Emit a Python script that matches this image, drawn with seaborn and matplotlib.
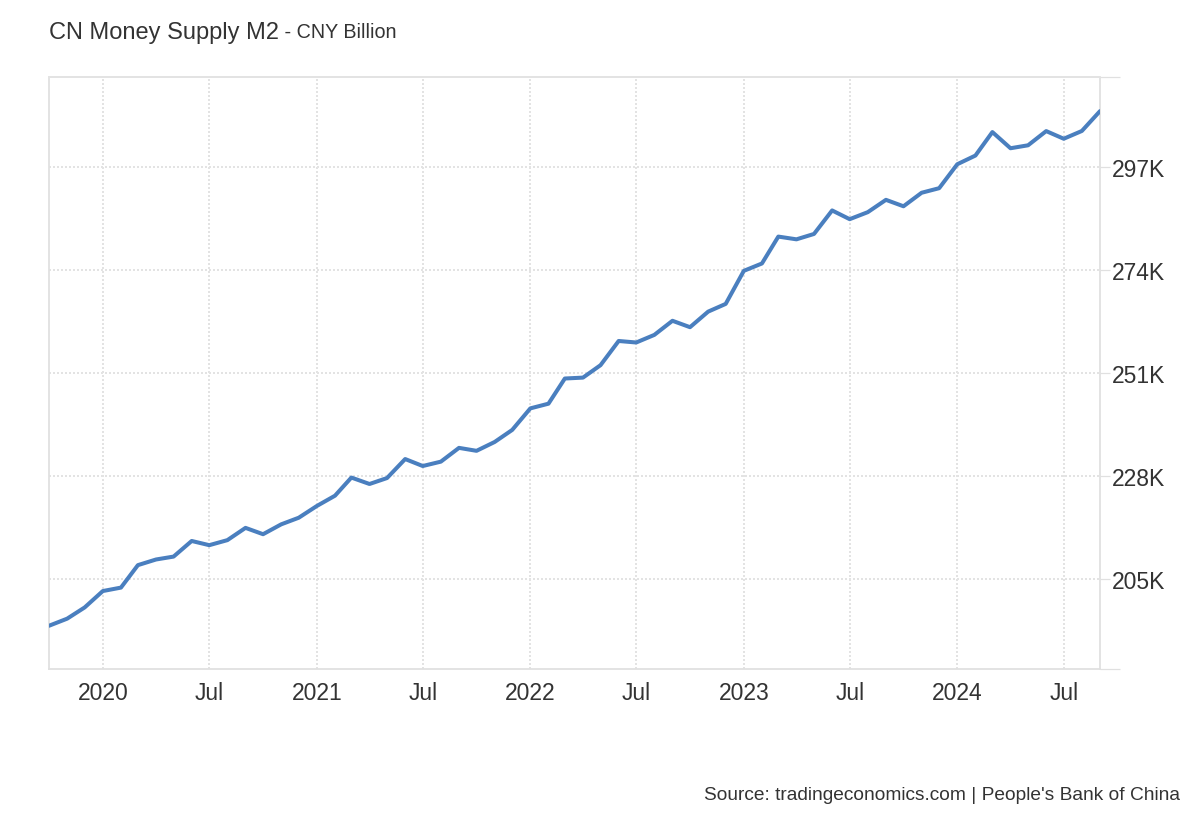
import matplotlib
matplotlib.use("Agg")
import matplotlib.pyplot as plt
import matplotlib.dates as mdates
import seaborn as sns
import pandas as pd

# DATA ==========================================================================
months = pd.date_range("2019-10-01", periods=60, freq="MS")
m2_values = [194556, 196139, 198649,
             202307, 203076, 208094, 209354, 210002, 213490, 212551, 213677, 216416, 215000, 217203, 218680,
             221307, 223604, 227650, 226214, 227545, 231786, 230228, 231204, 234280, 233622, 235599, 238290,
             243100, 244149, 249768, 249971, 252748, 258150, 257812, 259509, 262661, 261230, 264704, 266430,
             273810, 275460, 281460, 280850, 282050, 287300, 285350, 286920, 289670, 288230, 291250, 292270,
             297620, 299560, 304800, 301190, 301850, 305020, 303310, 305050, 309480]
y_ticks = [205000, 228000, 251000, 274000, 297000]
y_tick_labels = ["205K", "228K", "251K", "274K", "297K"]
x_ticks = ["2020-01-01", "2020-07-01", "2021-01-01", "2021-07-01", "2022-01-01",
           "2022-07-01", "2023-01-01", "2023-07-01", "2024-01-01", "2024-07-01"]
x_tick_labels = ["2020", "Jul", "2021", "Jul", "2022", "Jul", "2023", "Jul", "2024", "Jul"]

title_str = "CN Money Supply M2"
unit_str = " - CNY Billion"
source_str = "Source: tradingeconomics.com | People's Bank of China"

line_color = "#4a7fbf"
grid_color = "#e3e3e3"
frame_color = "#e0e0e0"
text_color = "#333333"

# PLOT ==========================================================================
sns.set_style("white")
plt.rcParams["font.family"] = ["Liberation Sans", "DejaVu Sans"]

df = pd.DataFrame({"Month": months, "M2": m2_values})

fig = plt.figure(figsize=(12, 8.2), dpi=100)
ax = fig.add_axes([49 / 1200, 1 - 670 / 820, (1100 - 49) / 1200, (670 - 78) / 820])

sns.lineplot(data=df, x="Month", y="M2", ax=ax, color=line_color, linewidth=2.9,
             solid_joinstyle="round", solid_capstyle="round", zorder=3)

ax.set_xlim(months[0], months[-1])
ax.set_ylim(184900, 317100)

ax.set_xticks([mdates.date2num(pd.Timestamp(d)) for d in x_ticks])
ax.set_xticklabels(x_tick_labels)
ax.yaxis.tick_right()
ax.set_yticks(y_ticks)
ax.set_yticklabels(y_tick_labels)
ax.set_yticks([184900, 317100], minor=True)

ax.tick_params(axis="x", length=0, pad=9, labelsize=16.5, labelcolor=text_color)
ax.tick_params(axis="y", which="major", length=7.2, width=0.9, color=frame_color, pad=1,
               labelsize=16.5, labelcolor=text_color)
ax.tick_params(axis="y", which="minor", length=14.4, width=0.9, color=frame_color)

# dotted grid, ~2px dots every 4px
ax.grid(True, axis="both", color=grid_color, linestyle=(0, (1, 1)), linewidth=1.44)
ax.set_axisbelow(True)

for side in ["left", "bottom", "right"]:
    ax.spines[side].set_visible(True)
    ax.spines[side].set_color(frame_color)
    ax.spines[side].set_linewidth(1.3)
ax.spines["top"].set_visible(True)
ax.spines["top"].set_color(grid_color)
ax.spines["top"].set_linestyle((0, (1, 1)))
ax.spines["top"].set_linewidth(1.44)

ax.set_xlabel("")
ax.set_ylabel("")

# title + unit
t1 = fig.text(49 / 1200, 1 - 33 / 820, title_str, fontsize=17, color=text_color, va="center", ha="left")
fig.canvas.draw()
bb = t1.get_window_extent()
fig.text(bb.x1 / 1200, 1 - 33 / 820, unit_str, fontsize=14.2, color=text_color, va="center", ha="left")

fig.text(1180 / 1200, 1 - 796 / 820, source_str, fontsize=13.8, color=text_color, va="center", ha="right")

plt.savefig("out.png", dpi=100)
